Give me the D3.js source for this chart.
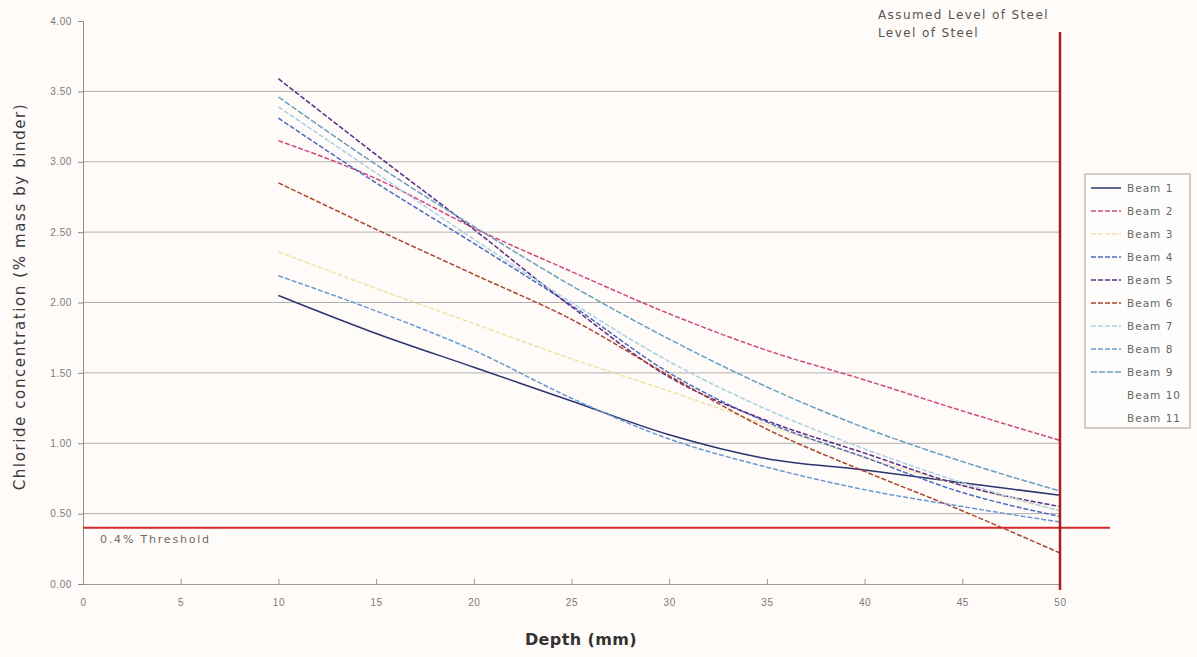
<!DOCTYPE html>
<html>
<head>
<meta charset="utf-8">
<script src="https://cdn.jsdelivr.net/npm/d3@7"></script>
<style>
  html, body { margin: 0; padding: 0; background: #fffbf8; }
  svg { display: block; font-family: "DejaVu Sans", "Liberation Sans", sans-serif; }
</style>
</head>
<body>
<svg id="chart" width="1197" height="657"></svg>
<script>
// Depth points (mm) at which each beam's chloride profile is sampled
const depths = [10, 15, 20, 25, 30, 35, 40, 45, 50];

// Chloride concentration (% mass by binder) per beam
const beam1 = [2.05, 1.78, 1.54, 1.30, 1.06, 0.89, 0.81, 0.72, 0.63];
const beam2 = [3.15, 2.88, 2.53, 2.22, 1.92, 1.66, 1.45, 1.23, 1.02];
const beam3 = [2.36, 2.10, 1.85, 1.60, 1.37, 1.13, 0.90, 0.70, 0.52];
const beam4 = [3.31, 2.85, 2.42, 1.98, 1.50, 1.15, 0.90, 0.65, 0.48];
const beam5 = [3.59, 3.05, 2.52, 1.97, 1.47, 1.16, 0.93, 0.70, 0.55];
const beam6 = [2.85, 2.52, 2.20, 1.88, 1.48, 1.10, 0.80, 0.52, 0.22];
const beam7 = [3.39, 2.92, 2.45, 2.00, 1.58, 1.24, 0.96, 0.72, 0.52];
const beam8 = [2.19, 1.94, 1.66, 1.32, 1.03, 0.83, 0.67, 0.55, 0.44];
const beam9 = [3.46, 2.98, 2.54, 2.12, 1.74, 1.40, 1.11, 0.87, 0.66];

const beamNames = ["Beam 1", "Beam 2", "Beam 3", "Beam 4", "Beam 5", "Beam 6",
                   "Beam 7", "Beam 8", "Beam 9", "Beam 10", "Beam 11"];
const beamValues = [beam1, beam2, beam3, beam4, beam5, beam6, beam7, beam8, beam9, null, null];

// Axis ticks
const xTicks = [0, 5, 10, 15, 20, 25, 30, 35, 40, 45, 50];
const yTicks = [0, 0.5, 1.0, 1.5, 2.0, 2.5, 3.0, 3.5, 4.0];

// Reference levels
const threshold = 0.4;
const steelDepth = 50;

// Line styling per beam
const colors = ["#2a3470", "#d04a80", "#f2e0aa", "#4c6cc0", "#5a2c84", "#a8462f",
                "#a8d0e4", "#6c98d2", "#6aa0bf", null, null];
const dashes = ["none", "5,2", "5,2", "5,2", "5,2", "5,2", "5,2", "5,2", "6,2", null, null];

const svg = d3.select("#chart");

const x = d3.scaleLinear().domain([0, 50]).range([83, 1060]);
const y = d3.scaleLinear().domain([0, 4]).range([584, 21]);

// Horizontal gridlines
svg.append("g")
  .selectAll("line")
  .data(yTicks.filter(v => v > 0 && v < 4))
  .join("line")
  .attr("x1", x(0)).attr("x2", x(50))
  .attr("y1", d => y(d)).attr("y2", d => y(d))
  .attr("stroke", "#b0b0b0").attr("stroke-width", 1);

// Y axis
const yAxis = d3.axisLeft(y).tickValues(yTicks).tickFormat(d3.format(".2f")).tickSize(5).tickPadding(6);
const gy = svg.append("g").attr("transform", `translate(${x(0)},0)`).call(yAxis);
gy.select(".domain").attr("stroke", "#8a8a8a");
gy.selectAll(".tick line").attr("stroke", "#8a8a8a");
gy.selectAll("text").attr("fill", "#7a7a7a").attr("font-size", 10).attr("letter-spacing", 0.6);

// X axis
const xAxis = d3.axisBottom(x).tickValues(xTicks).tickFormat(d3.format("d")).tickSize(-5).tickPadding(15);
const gx = svg.append("g").attr("transform", `translate(0,${y(0)})`).call(xAxis);
gx.select(".domain").attr("stroke", "#9a9a9a");
gx.selectAll(".tick line").attr("stroke", "#9a9a9a");
gx.selectAll("text").attr("fill", "#7a7a7a").attr("font-size", 10).attr("letter-spacing", 0.6);

// Axis titles
svg.append("text")
  .attr("x", 581).attr("y", 645)
  .attr("text-anchor", "middle")
  .attr("font-size", 16).attr("font-weight", "bold").attr("fill", "#333")
  .attr("letter-spacing", 0.4)
  .text("Depth (mm)");

svg.append("text")
  .attr("transform", `translate(25,${y(2) - 6}) rotate(-90)`)
  .attr("text-anchor", "middle")
  .attr("font-size", 15).attr("fill", "#3a3a3a")
  .attr("letter-spacing", 1.6)
  .text("Chloride concentration (% mass by binder)");

// Beam profiles
const line = d3.line()
  .x((d, i) => x(depths[i]))
  .y(d => y(d))
  .curve(d3.curveMonotoneX);

beamValues.forEach((vals, i) => {
  if (!vals) return;
  svg.append("path")
    .datum(vals)
    .attr("d", line)
    .attr("fill", "none")
    .attr("stroke", colors[i])
    .attr("stroke-width", 1.5)
    .attr("stroke-dasharray", dashes[i]);
});

// 0.4% threshold line
svg.append("line")
  .attr("x1", x(0)).attr("x2", 1110)
  .attr("y1", y(threshold)).attr("y2", y(threshold))
  .attr("stroke", "#d42a2a").attr("stroke-width", 2);
svg.append("text")
  .attr("x", 100).attr("y", y(threshold) + 15)
  .attr("font-size", 11).attr("fill", "#6a6a6a")
  .attr("letter-spacing", 1.8)
  .text("0.4% Threshold");

// Level of steel
svg.append("line")
  .attr("x1", x(steelDepth)).attr("x2", x(steelDepth))
  .attr("y1", 32).attr("y2", y(0) + 6)
  .attr("stroke", "#a41f22").attr("stroke-width", 2.5);
svg.append("text")
  .attr("x", 878).attr("y", 19)
  .attr("font-size", 12).attr("fill", "#555")
  .attr("letter-spacing", 1.4)
  .text("Assumed Level of Steel");
svg.append("text")
  .attr("x", 878).attr("y", 37)
  .attr("font-size", 12).attr("fill", "#555")
  .attr("letter-spacing", 1.4)
  .text("Level of Steel");

// Legend
const lg = svg.append("g").attr("transform", "translate(1085,174)");
lg.append("rect")
  .attr("x", 0).attr("y", 0).attr("width", 105).attr("height", 254)
  .attr("fill", "#fffdfb").attr("stroke", "#a0a0a0").attr("stroke-width", 1);
beamNames.forEach((name, i) => {
  const yy = 14 + i * 23;
  if (colors[i]) {
    lg.append("line")
      .attr("x1", 6).attr("x2", 36).attr("y1", yy).attr("y2", yy)
      .attr("stroke", colors[i]).attr("stroke-width", 1.5)
      .attr("stroke-dasharray", dashes[i]);
  }
  lg.append("text")
    .attr("x", 42).attr("y", yy + 4)
    .attr("font-size", 10.5).attr("fill", "#666")
    .attr("letter-spacing", 1)
    .text(name);
});
</script>
</body>
</html>
